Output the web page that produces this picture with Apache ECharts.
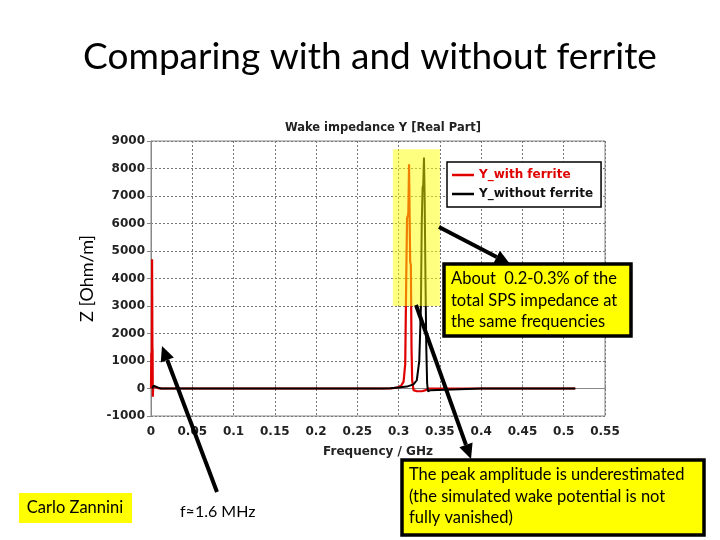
<!DOCTYPE html>
<html>
<head>
<meta charset="utf-8">
<script src="https://cdn.jsdelivr.net/npm/echarts@6/dist/echarts.min.js"></script>
<style>html,body{margin:0;padding:0;background:#fff;}#c{width:720px;height:540px;}</style>
</head>
<body>
<div id="c"></div>
<script>
// ---- data (GHz, Ohm/m) ----
const freqWith = [0.0000, 0.0004, 0.0008, 0.0013, 0.0017, 0.0019, 0.0022, 0.0027, 0.0040, 0.0060, 0.0100, 0.0500, 0.1000, 0.1500, 0.2000, 0.2500, 0.2900, 0.2980, 0.3030, 0.3060, 0.3080, 0.3092, 0.3102, 0.3112, 0.3118, 0.3126, 0.3134, 0.3140, 0.3148, 0.3156, 0.3164, 0.3180, 0.3220, 0.3280, 0.3330, 0.3360, 0.4000, 0.4500, 0.5000, 0.5140];
const zWith    = [0, 1300, 100, 4700, 1500, 1400, -300, 100, 120, 40, 0, 0, 0, 0, 0, 0, 0, 30, 100, 250, 900, 4000, 6200, 6300, 6400, 8150, 6000, 4600, 4500, 1500, 300, -60, -100, -100, -60, 0, 0, 0, 0, 0];
const freqWithout = [0.0015, 0.0030, 0.0050, 0.0080, 0.0120, 0.0500, 0.1000, 0.1500, 0.2000, 0.2500, 0.2800, 0.2900, 0.3000, 0.3100, 0.3180, 0.3220, 0.3250, 0.3270, 0.3280, 0.3290, 0.3298, 0.3307, 0.3315, 0.3325, 0.3335, 0.3345, 0.3355, 0.3370, 0.3385, 0.3400, 0.4000, 0.4500, 0.5000, 0.5140];
const zWithout    = [0, 100, 110, 40, 0, 0, 0, 0, 0, 0, 0, 10, 40, 70, 150, 300, 1000, 3000, 6000, 7300, 7400, 8400, 7000, 4000, 1500, 200, -100, -100, -60, 0, 0, 0, 0, 0];
const xTicks = {min: 0, max: 0.55, step: 0.05};
const yTicks = {min: -1000, max: 9000, step: 1000};
const highlight = {x0: 0.293, x1: 0.350, y0: 3000, y1: 8700};
const seriesNames = ['Y_with ferrite', 'Y_without ferrite'];

const pairs = (xs, ys) => xs.map((x, i) => [x, ys[i]]);

function arrow(x1, y1, x2, y2) {
  const ang = Math.atan2(y2 - y1, x2 - x1);
  const L = 15, W = 7;
  const bx = x2 - L * Math.cos(ang), by = y2 - L * Math.sin(ang);
  const px = -Math.sin(ang), py = Math.cos(ang);
  return [
    {type: 'line', z: 100, shape: {x1: x1, y1: y1, x2: bx, y2: by}, style: {stroke: '#000', lineWidth: 4}},
    {type: 'polygon', z: 100, shape: {points: [[x2, y2], [bx + W * px, by + W * py], [bx - W * px, by - W * py]]}, style: {fill: '#000'}}
  ];
}

const annFont = '16.5px Lato';
const chart = echarts.init(document.getElementById('c'));
chart.setOption({
  animation: false,
  backgroundColor: '#fff',
  title: {
    text: 'Wake impedance Y [Real Part]',
    left: 378, top: 117, textAlign: 'center',
    textStyle: {fontFamily: 'DejaVu Sans', fontWeight: 'bold', fontSize: 11.5, color: '#222'}
  },
  legend: {
    data: [
      {name: seriesNames[0], textStyle: {color: '#e00000'}},
      {name: seriesNames[1], textStyle: {color: '#111'}}
    ],
    orient: 'vertical', left: 447, top: 162,
    backgroundColor: '#fff', borderColor: '#000', borderWidth: 1.5,
    padding: [7, 8, 7, 5], itemGap: 7,
    icon: 'rect', itemWidth: 22, itemHeight: 2.5,
    textStyle: {fontFamily: 'DejaVu Sans', fontWeight: 'bold', fontSize: 12}
  },
  grid: {left: 151, right: 115, top: 141, bottom: 124, show: true, borderColor: '#888', borderWidth: 1, containLabel: false},
  xAxis: {
    type: 'value', min: xTicks.min, max: xTicks.max, interval: xTicks.step,
    name: 'Frequency / GHz', nameLocation: 'middle', nameGap: 30,
    nameTextStyle: {fontFamily: 'DejaVu Sans', fontWeight: 'bold', fontSize: 12, color: '#222'},
    axisLine: {lineStyle: {color: '#888'}},
    axisTick: {inside: true, length: 4, lineStyle: {color: '#888'}},
    axisLabel: {margin: 10, fontFamily: 'DejaVu Sans', fontWeight: 'bold', fontSize: 12, color: '#222'},
    splitLine: {show: true, lineStyle: {type: [2, 2], color: '#777', width: 1}}
  },
  yAxis: {
    type: 'value', min: yTicks.min, max: yTicks.max, interval: yTicks.step,
    name: 'Z [Ohm/m]', nameLocation: 'middle', nameGap: 50,
    nameTextStyle: {fontFamily: 'Lato', fontSize: 18, color: '#000'},
    axisLine: {show: true, lineStyle: {color: '#888'}},
    axisTick: {show: true, length: 4, lineStyle: {color: '#888'}},
    axisLabel: {margin: 6, formatter: v => String(v), fontFamily: 'DejaVu Sans', fontWeight: 'bold', fontSize: 12, color: '#222'},
    splitLine: {show: true, lineStyle: {type: [2, 2], color: '#777', width: 1}}
  },
  series: [
    {name: seriesNames[0], type: 'line', data: pairs(freqWith, zWith), showSymbol: false, symbol: 'none',
     lineStyle: {color: '#e00000', width: 2.2}, itemStyle: {color: '#e00000'}, z: 2},
    {name: seriesNames[1], type: 'line', data: pairs(freqWithout, zWithout), showSymbol: false, symbol: 'none',
     lineStyle: {color: '#000', width: 2}, itemStyle: {color: '#000'}, z: 3}
  ]
});

// highlight area placed through the axes' own scales
const pA = chart.convertToPixel({gridIndex: 0}, [highlight.x0, highlight.y1]);
const pB = chart.convertToPixel({gridIndex: 0}, [highlight.x1, highlight.y0]);

chart.setOption({
  graphic: [
    {type: 'rect', z: 50, silent: true, shape: {x: pA[0], y: pA[1], width: pB[0] - pA[0], height: pB[1] - pA[1]}, style: {fill: 'rgba(255,255,0,0.5)'}},
    {type: 'text', z: 100, style: {x: 370, y: 57, text: 'Comparing with and without ferrite', font: '37px Lato', fill: '#000', textAlign: 'center', textVerticalAlign: 'middle'}},
    {type: 'rect', z: 90, shape: {x: 444, y: 264, width: 187, height: 72}, style: {fill: '#ffff00', stroke: '#000', lineWidth: 3.5}},
    {type: 'text', z: 100, style: {x: 451, y: 268, text: 'About  0.2-0.3% of the\ntotal SPS impedance at\nthe same frequencies', font: annFont, lineHeight: 21.5, fill: '#000'}},
    {type: 'rect', z: 90, shape: {x: 402, y: 460, width: 302, height: 75}, style: {fill: '#ffff00', stroke: '#000', lineWidth: 3.5}},
    {type: 'text', z: 100, style: {x: 409, y: 464, text: 'The peak amplitude is underestimated\n(the simulated wake potential is not\nfully vanished)', font: annFont, lineHeight: 21.5, fill: '#000'}},
    {type: 'rect', z: 90, shape: {x: 19, y: 493, width: 113, height: 30}, style: {fill: '#ffff00'}},
    {type: 'text', z: 100, style: {x: 75, y: 508, text: 'Carlo Zannini', font: '16.5px Lato', fill: '#000', textAlign: 'center', textVerticalAlign: 'middle'}},
    {type: 'text', z: 100, style: {x: 180, y: 512, text: 'f≈1.6 MHz', font: '16px Lato', fill: '#000', textVerticalAlign: 'middle'}},
    ...arrow(439, 227, 510, 264),
    ...arrow(416, 305, 471, 459),
    ...arrow(217, 492, 162, 346)
  ]
});
</script>
</body>
</html>
